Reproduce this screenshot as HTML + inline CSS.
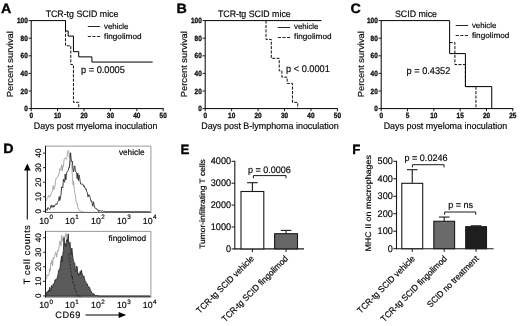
<!DOCTYPE html>
<html><head><meta charset="utf-8"><title>Figure</title>
<style>
html,body{margin:0;padding:0;background:#fff;}
body{width:520px;height:326px;overflow:hidden;font-family:"Liberation Sans",sans-serif;}
svg{display:block;filter:blur(0.22px);}
svg text{font-family:"Liberation Sans",sans-serif;stroke:#000;stroke-width:0.18px;text-rendering:geometricPrecision;}
</style></head>
<body>
<svg width="520" height="326" viewBox="0 0 520 326">
<rect x="0" y="0" width="520" height="326" fill="#ffffff"/>
<text transform="translate(1.10,12.50) scale(1.06,1)" x="0" y="0" font-size="13.5" text-anchor="start" font-weight="bold" fill="#000" style="stroke-width:0.32px">A</text>
<text transform="translate(82.00,17.30) scale(0.945,1)" x="0" y="0" font-size="9.3" text-anchor="middle" font-weight="normal" fill="#0a0a0a">TCR-tg SCID mice</text>
<line x1="31.2" y1="20.1" x2="31.2" y2="109.1" stroke="#000" stroke-width="1.0"/>
<line x1="30.7" y1="108.6" x2="163.7" y2="108.6" stroke="#000" stroke-width="1.0"/>
<line x1="28.599999999999998" y1="108.6" x2="31.2" y2="108.6" stroke="#1a1a1a" stroke-width="1.0"/>
<text transform="translate(27.80,111.10) scale(0.86,1)" x="0" y="0" font-size="7.5" text-anchor="end" font-weight="bold" fill="#1a1a1a" style="stroke-width:0.32px">0</text>
<line x1="28.599999999999998" y1="91.0" x2="31.2" y2="91.0" stroke="#1a1a1a" stroke-width="1.0"/>
<text transform="translate(27.80,93.50) scale(0.86,1)" x="0" y="0" font-size="7.5" text-anchor="end" font-weight="bold" fill="#1a1a1a" style="stroke-width:0.32px">20</text>
<line x1="28.599999999999998" y1="73.39999999999999" x2="31.2" y2="73.39999999999999" stroke="#1a1a1a" stroke-width="1.0"/>
<text transform="translate(27.80,75.90) scale(0.86,1)" x="0" y="0" font-size="7.5" text-anchor="end" font-weight="bold" fill="#1a1a1a" style="stroke-width:0.32px">40</text>
<line x1="28.599999999999998" y1="55.8" x2="31.2" y2="55.8" stroke="#1a1a1a" stroke-width="1.0"/>
<text transform="translate(27.80,58.30) scale(0.86,1)" x="0" y="0" font-size="7.5" text-anchor="end" font-weight="bold" fill="#1a1a1a" style="stroke-width:0.32px">60</text>
<line x1="28.599999999999998" y1="38.19999999999999" x2="31.2" y2="38.19999999999999" stroke="#1a1a1a" stroke-width="1.0"/>
<text transform="translate(27.80,40.70) scale(0.86,1)" x="0" y="0" font-size="7.5" text-anchor="end" font-weight="bold" fill="#1a1a1a" style="stroke-width:0.32px">80</text>
<line x1="28.599999999999998" y1="20.599999999999994" x2="31.2" y2="20.599999999999994" stroke="#1a1a1a" stroke-width="1.0"/>
<text transform="translate(27.80,23.10) scale(0.86,1)" x="0" y="0" font-size="7.5" text-anchor="end" font-weight="bold" fill="#1a1a1a" style="stroke-width:0.32px">100</text>
<line x1="31.2" y1="108.6" x2="31.2" y2="111.19999999999999" stroke="#1a1a1a" stroke-width="1.0"/>
<text transform="translate(31.20,118.30) scale(0.86,1)" x="0" y="0" font-size="7.5" text-anchor="middle" font-weight="bold" fill="#1a1a1a" style="stroke-width:0.32px">0</text>
<line x1="57.6" y1="108.6" x2="57.6" y2="111.19999999999999" stroke="#1a1a1a" stroke-width="1.0"/>
<text transform="translate(57.60,118.30) scale(0.86,1)" x="0" y="0" font-size="7.5" text-anchor="middle" font-weight="bold" fill="#1a1a1a" style="stroke-width:0.32px">10</text>
<line x1="84.0" y1="108.6" x2="84.0" y2="111.19999999999999" stroke="#1a1a1a" stroke-width="1.0"/>
<text transform="translate(84.00,118.30) scale(0.86,1)" x="0" y="0" font-size="7.5" text-anchor="middle" font-weight="bold" fill="#1a1a1a" style="stroke-width:0.32px">20</text>
<line x1="110.4" y1="108.6" x2="110.4" y2="111.19999999999999" stroke="#1a1a1a" stroke-width="1.0"/>
<text transform="translate(110.40,118.30) scale(0.86,1)" x="0" y="0" font-size="7.5" text-anchor="middle" font-weight="bold" fill="#1a1a1a" style="stroke-width:0.32px">30</text>
<line x1="136.8" y1="108.6" x2="136.8" y2="111.19999999999999" stroke="#1a1a1a" stroke-width="1.0"/>
<text transform="translate(136.80,118.30) scale(0.86,1)" x="0" y="0" font-size="7.5" text-anchor="middle" font-weight="bold" fill="#1a1a1a" style="stroke-width:0.32px">40</text>
<line x1="163.2" y1="108.6" x2="163.2" y2="111.19999999999999" stroke="#1a1a1a" stroke-width="1.0"/>
<text transform="translate(163.20,118.30) scale(0.86,1)" x="0" y="0" font-size="7.5" text-anchor="middle" font-weight="bold" fill="#1a1a1a" style="stroke-width:0.32px">50</text>
<text transform="translate(13.40,64.20) rotate(-90) scale(1.06,1)" x="0" y="0" font-size="8.74" text-anchor="middle" font-weight="normal" fill="#0a0a0a" >Percent survival</text>
<text transform="translate(95.60,129.30) scale(0.955,1)" x="0" y="0" font-size="9.36" text-anchor="middle" font-weight="normal" fill="#0a0a0a" >Days post myeloma inoculation</text>
<path d="M65.52,20.60 L65.52,45.77 L70.80,45.77 L70.80,64.60 L73.44,64.60 L73.44,102.35 L78.72,102.35 L78.72,108.60" stroke="#000" stroke-width="0.95" fill="none" stroke-dasharray="3,1.4" />
<path d="M31.20,20.60 L65.52,20.60 L65.52,30.98 L68.16,30.98 L68.16,36.09 L73.44,36.09 L73.44,51.66 L78.72,51.66 L78.72,56.86 L91.92,56.86 L91.92,62.05 L152.64,62.05" stroke="#000" stroke-width="1.0" fill="none" />
<line x1="87.8" y1="26.5" x2="100.1" y2="26.5" stroke="#000" stroke-width="0.85"/>
<line x1="87.8" y1="36.5" x2="100.3" y2="36.5" stroke="#000" stroke-width="0.85" stroke-dasharray="3.2,1.35"/>
<text transform="translate(104.00,29.00) scale(0.995,1)" x="0" y="0" font-size="7.9" text-anchor="start" font-weight="normal" fill="#0a0a0a">vehicle</text>
<text transform="translate(104.10,39.00) scale(1.04,1)" x="0" y="0" font-size="7.9" text-anchor="start" font-weight="normal" fill="#0a0a0a">fingolimod</text>
<text transform="translate(81.00,73.00) scale(0.945,1)" x="0" y="0" font-size="9.78" text-anchor="start" font-weight="normal" fill="#0a0a0a" >p = 0.0005</text>
<text transform="translate(176.60,12.50) scale(1.06,1)" x="0" y="0" font-size="13.5" text-anchor="start" font-weight="bold" fill="#000" style="stroke-width:0.32px">B</text>
<text transform="translate(254.30,17.30) scale(0.945,1)" x="0" y="0" font-size="9.3" text-anchor="middle" font-weight="normal" fill="#0a0a0a">TCR-tg SCID mice</text>
<line x1="205.2" y1="20.1" x2="205.2" y2="109.1" stroke="#000" stroke-width="1.0"/>
<line x1="204.7" y1="108.6" x2="337.9" y2="108.6" stroke="#000" stroke-width="1.0"/>
<line x1="202.6" y1="108.6" x2="205.2" y2="108.6" stroke="#1a1a1a" stroke-width="1.0"/>
<text transform="translate(201.80,111.10) scale(0.86,1)" x="0" y="0" font-size="7.5" text-anchor="end" font-weight="bold" fill="#1a1a1a" style="stroke-width:0.32px">0</text>
<line x1="202.6" y1="91.0" x2="205.2" y2="91.0" stroke="#1a1a1a" stroke-width="1.0"/>
<text transform="translate(201.80,93.50) scale(0.86,1)" x="0" y="0" font-size="7.5" text-anchor="end" font-weight="bold" fill="#1a1a1a" style="stroke-width:0.32px">20</text>
<line x1="202.6" y1="73.39999999999999" x2="205.2" y2="73.39999999999999" stroke="#1a1a1a" stroke-width="1.0"/>
<text transform="translate(201.80,75.90) scale(0.86,1)" x="0" y="0" font-size="7.5" text-anchor="end" font-weight="bold" fill="#1a1a1a" style="stroke-width:0.32px">40</text>
<line x1="202.6" y1="55.8" x2="205.2" y2="55.8" stroke="#1a1a1a" stroke-width="1.0"/>
<text transform="translate(201.80,58.30) scale(0.86,1)" x="0" y="0" font-size="7.5" text-anchor="end" font-weight="bold" fill="#1a1a1a" style="stroke-width:0.32px">60</text>
<line x1="202.6" y1="38.19999999999999" x2="205.2" y2="38.19999999999999" stroke="#1a1a1a" stroke-width="1.0"/>
<text transform="translate(201.80,40.70) scale(0.86,1)" x="0" y="0" font-size="7.5" text-anchor="end" font-weight="bold" fill="#1a1a1a" style="stroke-width:0.32px">80</text>
<line x1="202.6" y1="20.599999999999994" x2="205.2" y2="20.599999999999994" stroke="#1a1a1a" stroke-width="1.0"/>
<text transform="translate(201.80,23.10) scale(0.86,1)" x="0" y="0" font-size="7.5" text-anchor="end" font-weight="bold" fill="#1a1a1a" style="stroke-width:0.32px">100</text>
<line x1="205.2" y1="108.6" x2="205.2" y2="111.19999999999999" stroke="#1a1a1a" stroke-width="1.0"/>
<text transform="translate(205.20,118.30) scale(0.86,1)" x="0" y="0" font-size="7.5" text-anchor="middle" font-weight="bold" fill="#1a1a1a" style="stroke-width:0.32px">0</text>
<line x1="231.64" y1="108.6" x2="231.64" y2="111.19999999999999" stroke="#1a1a1a" stroke-width="1.0"/>
<text transform="translate(231.64,118.30) scale(0.86,1)" x="0" y="0" font-size="7.5" text-anchor="middle" font-weight="bold" fill="#1a1a1a" style="stroke-width:0.32px">10</text>
<line x1="258.08" y1="108.6" x2="258.08" y2="111.19999999999999" stroke="#1a1a1a" stroke-width="1.0"/>
<text transform="translate(258.08,118.30) scale(0.86,1)" x="0" y="0" font-size="7.5" text-anchor="middle" font-weight="bold" fill="#1a1a1a" style="stroke-width:0.32px">20</text>
<line x1="284.52" y1="108.6" x2="284.52" y2="111.19999999999999" stroke="#1a1a1a" stroke-width="1.0"/>
<text transform="translate(284.52,118.30) scale(0.86,1)" x="0" y="0" font-size="7.5" text-anchor="middle" font-weight="bold" fill="#1a1a1a" style="stroke-width:0.32px">30</text>
<line x1="310.96" y1="108.6" x2="310.96" y2="111.19999999999999" stroke="#1a1a1a" stroke-width="1.0"/>
<text transform="translate(310.96,118.30) scale(0.86,1)" x="0" y="0" font-size="7.5" text-anchor="middle" font-weight="bold" fill="#1a1a1a" style="stroke-width:0.32px">40</text>
<line x1="337.4" y1="108.6" x2="337.4" y2="111.19999999999999" stroke="#1a1a1a" stroke-width="1.0"/>
<text transform="translate(337.40,118.30) scale(0.86,1)" x="0" y="0" font-size="7.5" text-anchor="middle" font-weight="bold" fill="#1a1a1a" style="stroke-width:0.32px">50</text>
<text transform="translate(186.80,64.20) rotate(-90) scale(1.06,1)" x="0" y="0" font-size="8.74" text-anchor="middle" font-weight="normal" fill="#0a0a0a" >Percent survival</text>
<text transform="translate(269.90,129.30) scale(0.955,1)" x="0" y="0" font-size="9.36" text-anchor="middle" font-weight="normal" fill="#0a0a0a" >Days post B-lymphoma inoculation</text>
<path d="M266.01,20.60 L266.01,39.43 L271.30,39.43 L271.30,58.35 L279.23,58.35 L279.23,70.85 L281.88,70.85 L281.88,77.18 L287.16,77.18 L287.16,83.43 L292.45,83.43 L292.45,102.35 L297.74,102.35 L297.74,108.60" stroke="#000" stroke-width="0.95" fill="none" stroke-dasharray="3,1.4" />
<path d="M205.20,20.60 L321.54,20.60" stroke="#000" stroke-width="1.0" fill="none" />
<line x1="277.8" y1="27.5" x2="290.1" y2="27.5" stroke="#000" stroke-width="0.85"/>
<line x1="277.8" y1="37.5" x2="290.3" y2="37.5" stroke="#000" stroke-width="0.85" stroke-dasharray="3.2,1.35"/>
<text transform="translate(294.00,29.40) scale(0.995,1)" x="0" y="0" font-size="7.9" text-anchor="start" font-weight="normal" fill="#0a0a0a">vehicle</text>
<text transform="translate(294.10,39.40) scale(1.04,1)" x="0" y="0" font-size="7.9" text-anchor="start" font-weight="normal" fill="#0a0a0a">fingolimod</text>
<text transform="translate(286.00,71.80) scale(0.945,1)" x="0" y="0" font-size="9.78" text-anchor="start" font-weight="normal" fill="#0a0a0a" >p &lt; 0.0001</text>
<text transform="translate(350.60,12.50) scale(1.06,1)" x="0" y="0" font-size="13.5" text-anchor="start" font-weight="bold" fill="#000" style="stroke-width:0.32px">C</text>
<text transform="translate(416.00,17.30) scale(0.945,1)" x="0" y="0" font-size="9.3" text-anchor="middle" font-weight="normal" fill="#0a0a0a">SCID mice</text>
<line x1="381.2" y1="20.1" x2="381.2" y2="109.1" stroke="#000" stroke-width="1.0"/>
<line x1="380.7" y1="108.6" x2="513.3" y2="108.6" stroke="#000" stroke-width="1.0"/>
<line x1="378.59999999999997" y1="108.6" x2="381.2" y2="108.6" stroke="#1a1a1a" stroke-width="1.0"/>
<text transform="translate(377.80,111.10) scale(0.86,1)" x="0" y="0" font-size="7.5" text-anchor="end" font-weight="bold" fill="#1a1a1a" style="stroke-width:0.32px">0</text>
<line x1="378.59999999999997" y1="91.0" x2="381.2" y2="91.0" stroke="#1a1a1a" stroke-width="1.0"/>
<text transform="translate(377.80,93.50) scale(0.86,1)" x="0" y="0" font-size="7.5" text-anchor="end" font-weight="bold" fill="#1a1a1a" style="stroke-width:0.32px">20</text>
<line x1="378.59999999999997" y1="73.39999999999999" x2="381.2" y2="73.39999999999999" stroke="#1a1a1a" stroke-width="1.0"/>
<text transform="translate(377.80,75.90) scale(0.86,1)" x="0" y="0" font-size="7.5" text-anchor="end" font-weight="bold" fill="#1a1a1a" style="stroke-width:0.32px">40</text>
<line x1="378.59999999999997" y1="55.8" x2="381.2" y2="55.8" stroke="#1a1a1a" stroke-width="1.0"/>
<text transform="translate(377.80,58.30) scale(0.86,1)" x="0" y="0" font-size="7.5" text-anchor="end" font-weight="bold" fill="#1a1a1a" style="stroke-width:0.32px">60</text>
<line x1="378.59999999999997" y1="38.19999999999999" x2="381.2" y2="38.19999999999999" stroke="#1a1a1a" stroke-width="1.0"/>
<text transform="translate(377.80,40.70) scale(0.86,1)" x="0" y="0" font-size="7.5" text-anchor="end" font-weight="bold" fill="#1a1a1a" style="stroke-width:0.32px">80</text>
<line x1="378.59999999999997" y1="20.599999999999994" x2="381.2" y2="20.599999999999994" stroke="#1a1a1a" stroke-width="1.0"/>
<text transform="translate(377.80,23.10) scale(0.86,1)" x="0" y="0" font-size="7.5" text-anchor="end" font-weight="bold" fill="#1a1a1a" style="stroke-width:0.32px">100</text>
<line x1="381.2" y1="108.6" x2="381.2" y2="111.19999999999999" stroke="#1a1a1a" stroke-width="1.0"/>
<text transform="translate(381.20,118.30) scale(0.86,1)" x="0" y="0" font-size="7.5" text-anchor="middle" font-weight="bold" fill="#1a1a1a" style="stroke-width:0.32px">0</text>
<line x1="407.52" y1="108.6" x2="407.52" y2="111.19999999999999" stroke="#1a1a1a" stroke-width="1.0"/>
<text transform="translate(407.52,118.30) scale(0.86,1)" x="0" y="0" font-size="7.5" text-anchor="middle" font-weight="bold" fill="#1a1a1a" style="stroke-width:0.32px">5</text>
<line x1="433.84" y1="108.6" x2="433.84" y2="111.19999999999999" stroke="#1a1a1a" stroke-width="1.0"/>
<text transform="translate(433.84,118.30) scale(0.86,1)" x="0" y="0" font-size="7.5" text-anchor="middle" font-weight="bold" fill="#1a1a1a" style="stroke-width:0.32px">10</text>
<line x1="460.15999999999997" y1="108.6" x2="460.15999999999997" y2="111.19999999999999" stroke="#1a1a1a" stroke-width="1.0"/>
<text transform="translate(460.16,118.30) scale(0.86,1)" x="0" y="0" font-size="7.5" text-anchor="middle" font-weight="bold" fill="#1a1a1a" style="stroke-width:0.32px">15</text>
<line x1="486.48" y1="108.6" x2="486.48" y2="111.19999999999999" stroke="#1a1a1a" stroke-width="1.0"/>
<text transform="translate(486.48,118.30) scale(0.86,1)" x="0" y="0" font-size="7.5" text-anchor="middle" font-weight="bold" fill="#1a1a1a" style="stroke-width:0.32px">20</text>
<line x1="512.8" y1="108.6" x2="512.8" y2="111.19999999999999" stroke="#1a1a1a" stroke-width="1.0"/>
<text transform="translate(512.80,118.30) scale(0.86,1)" x="0" y="0" font-size="7.5" text-anchor="middle" font-weight="bold" fill="#1a1a1a" style="stroke-width:0.32px">25</text>
<text transform="translate(363.60,64.20) rotate(-90) scale(1.06,1)" x="0" y="0" font-size="8.74" text-anchor="middle" font-weight="normal" fill="#0a0a0a" >Percent survival</text>
<text transform="translate(445.40,129.30) scale(0.955,1)" x="0" y="0" font-size="9.36" text-anchor="middle" font-weight="normal" fill="#0a0a0a" >Days post myeloma inoculation</text>
<path d="M449.63,42.60 L454.90,42.60 L454.90,64.60 L465.42,64.60 L465.42,86.60 L475.95,86.60 L475.95,108.60" stroke="#000" stroke-width="0.95" fill="none" stroke-dasharray="3,1.4" />
<path d="M381.20,20.60 L449.63,20.60 L449.63,53.60 L465.42,53.60 L465.42,86.60 L491.74,86.60 L491.74,108.60" stroke="#000" stroke-width="1.0" fill="none" />
<line x1="455.7" y1="25.5" x2="468.0" y2="25.5" stroke="#000" stroke-width="0.85"/>
<line x1="455.7" y1="35.5" x2="468.2" y2="35.5" stroke="#000" stroke-width="0.85" stroke-dasharray="3.2,1.35"/>
<text transform="translate(471.90,27.70) scale(0.995,1)" x="0" y="0" font-size="7.9" text-anchor="start" font-weight="normal" fill="#0a0a0a">vehicle</text>
<text transform="translate(472.00,37.70) scale(1.04,1)" x="0" y="0" font-size="7.9" text-anchor="start" font-weight="normal" fill="#0a0a0a">fingolimod</text>
<text transform="translate(406.50,74.20) scale(0.945,1)" x="0" y="0" font-size="9.78" text-anchor="start" font-weight="normal" fill="#0a0a0a" >p = 0.4352</text>
<text transform="translate(3.30,152.80) scale(1.06,1)" x="0" y="0" font-size="13.5" text-anchor="start" font-weight="bold" fill="#000" style="stroke-width:0.32px">D</text>
<line x1="45.5" y1="146.1" x2="150.9" y2="146.1" stroke="#777" stroke-width="0.75"/>
<line x1="150.9" y1="146.1" x2="150.9" y2="212.4" stroke="#777" stroke-width="0.75"/>
<line x1="45.1" y1="212.4" x2="151.20000000000002" y2="212.4" stroke="#3a3a3a" stroke-width="0.85"/>
<line x1="45.5" y1="145.79999999999998" x2="45.5" y2="212.8" stroke="#161616" stroke-width="1.0"/>
<line x1="43.0" y1="211.3" x2="45.5" y2="211.3" stroke="#1a1a1a" stroke-width="0.9"/>
<text transform="translate(41.20,211.30) rotate(-90) scale(1,1)" x="0" y="0" font-size="8.00" text-anchor="middle" font-weight="normal" fill="#0a0a0a" >0</text>
<line x1="43.0" y1="196.75" x2="45.5" y2="196.75" stroke="#1a1a1a" stroke-width="0.9"/>
<text transform="translate(41.20,196.75) rotate(-90) scale(1,1)" x="0" y="0" font-size="8.00" text-anchor="middle" font-weight="normal" fill="#0a0a0a" >10</text>
<line x1="43.0" y1="182.20000000000002" x2="45.5" y2="182.20000000000002" stroke="#1a1a1a" stroke-width="0.9"/>
<text transform="translate(41.20,182.20) rotate(-90) scale(1,1)" x="0" y="0" font-size="8.00" text-anchor="middle" font-weight="normal" fill="#0a0a0a" >20</text>
<line x1="43.0" y1="167.65" x2="45.5" y2="167.65" stroke="#1a1a1a" stroke-width="0.9"/>
<text transform="translate(41.20,167.65) rotate(-90) scale(1,1)" x="0" y="0" font-size="8.00" text-anchor="middle" font-weight="normal" fill="#0a0a0a" >30</text>
<line x1="43.0" y1="153.10000000000002" x2="45.5" y2="153.10000000000002" stroke="#1a1a1a" stroke-width="0.9"/>
<text transform="translate(41.20,153.10) rotate(-90) scale(1,1)" x="0" y="0" font-size="8.00" text-anchor="middle" font-weight="normal" fill="#0a0a0a" >40</text>
<text transform="translate(44.10,223.70) scale(1,1)" x="0" y="0" font-size="8.80" text-anchor="middle" font-weight="normal" fill="#0a0a0a" >10</text>
<text transform="translate(51.20,218.90) scale(1,1)" x="0" y="0" font-size="6.30" text-anchor="middle" font-weight="normal" fill="#0a0a0a" >0</text>
<text transform="translate(70.00,223.70) scale(1,1)" x="0" y="0" font-size="8.80" text-anchor="middle" font-weight="normal" fill="#0a0a0a" >10</text>
<text transform="translate(77.10,218.90) scale(1,1)" x="0" y="0" font-size="6.30" text-anchor="middle" font-weight="normal" fill="#0a0a0a" >1</text>
<text transform="translate(95.90,223.70) scale(1,1)" x="0" y="0" font-size="8.80" text-anchor="middle" font-weight="normal" fill="#0a0a0a" >10</text>
<text transform="translate(103.00,218.90) scale(1,1)" x="0" y="0" font-size="6.30" text-anchor="middle" font-weight="normal" fill="#0a0a0a" >2</text>
<text transform="translate(121.80,223.70) scale(1,1)" x="0" y="0" font-size="8.80" text-anchor="middle" font-weight="normal" fill="#0a0a0a" >10</text>
<text transform="translate(128.90,218.90) scale(1,1)" x="0" y="0" font-size="6.30" text-anchor="middle" font-weight="normal" fill="#0a0a0a" >3</text>
<text transform="translate(147.70,223.70) scale(1,1)" x="0" y="0" font-size="8.80" text-anchor="middle" font-weight="normal" fill="#0a0a0a" >10</text>
<text transform="translate(154.80,218.90) scale(1,1)" x="0" y="0" font-size="6.30" text-anchor="middle" font-weight="normal" fill="#0a0a0a" >4</text>
<text transform="translate(118.90,155.20) scale(1,1)" x="0" y="0" font-size="8.25" text-anchor="start" font-weight="normal" fill="#0a0a0a" >vehicle</text>
<path d="M46.00,200.11 L46.60,200.46 L47.20,198.41 L47.80,197.39 L48.40,195.43 L49.00,195.83 L49.60,197.40 L50.20,195.12 L50.80,195.32 L51.40,192.75 L52.00,192.04 L52.60,190.58 L53.20,185.44 L53.80,189.80 L54.40,187.82 L55.00,186.61 L55.60,180.12 L56.20,178.33 L56.80,178.15 L57.40,176.97 L58.00,176.84 L58.60,174.07 L59.20,173.91 L59.80,168.70 L60.40,170.11 L61.00,169.15 L61.60,164.67 L62.20,170.88 L62.80,166.03 L63.40,166.88 L64.00,159.79 L64.60,158.22 L65.20,158.35 L65.80,157.99 L66.40,159.35 L67.00,156.63 L67.60,152.73 L68.20,150.37 L68.80,151.79 L69.40,157.82 L70.00,152.75 L70.60,158.83 L71.20,165.36 L71.80,165.66 L72.40,176.50 L73.00,184.83 L73.60,180.83 L74.20,188.93 L74.80,193.32 L75.40,195.23 L76.00,200.63 L76.60,202.92 L77.20,203.04 L77.80,207.46 L78.40,208.95 L79.00,210.05 L79.60,210.84 L80.20,210.77 L80.80,211.10 L81.40,210.90 L82.00,211.56 L82.60,211.60 L83.20,211.60 L83.80,211.60" stroke="#a2a2a2" stroke-width="0.9" fill="none" stroke-linejoin="round"/>
<path d="M46.00,209.43 L46.60,209.39 L47.20,210.33 L47.80,207.73 L48.40,207.82 L49.00,208.84 L49.60,209.58 L50.20,208.59 L50.80,206.04 L51.40,205.05 L52.00,207.45 L52.60,206.02 L53.20,205.26 L53.80,207.17 L54.40,206.76 L55.00,204.94 L55.60,204.31 L56.20,203.81 L56.80,204.63 L57.40,202.48 L58.00,201.54 L58.60,200.79 L59.20,196.54 L59.80,200.44 L60.40,197.99 L61.00,194.69 L61.60,186.91 L62.20,187.03 L62.80,187.81 L63.40,179.27 L64.00,181.18 L64.60,182.26 L65.20,174.01 L65.80,179.97 L66.40,175.37 L67.00,171.66 L67.60,171.36 L68.20,170.67 L68.80,167.37 L69.40,167.65 L70.00,158.83 L70.60,152.80 L71.20,160.07 L71.80,161.86 L72.40,161.27 L73.00,169.15 L73.60,171.95 L74.20,167.35 L74.80,165.83 L75.40,170.79 L76.00,171.96 L76.60,172.73 L77.20,178.70 L77.80,173.11 L78.40,180.55 L79.00,174.93 L79.60,177.44 L80.20,181.98 L80.80,184.07 L81.40,184.20 L82.00,183.74 L82.60,184.08 L83.20,184.94 L83.80,186.79 L84.40,185.88 L85.00,187.78 L85.60,189.30 L86.20,188.87 L86.80,191.65 L87.40,192.62 L88.00,196.89 L88.60,194.92 L89.20,194.94 L89.80,196.48 L90.40,198.52 L91.00,201.41 L91.60,200.86 L92.20,203.30 L92.80,206.20 L93.40,201.75 L94.00,204.59 L94.60,207.08 L95.20,208.19 L95.80,208.58 L96.40,208.50 L97.00,209.75 L97.60,209.92 L98.20,209.91 L98.80,211.60 L99.40,210.72 L100.00,210.48 L100.60,210.86 L101.20,210.99 L101.80,211.22 L102.40,210.68 L103.00,211.27 L103.60,211.60 L104.20,211.27 L104.80,211.50 L105.40,211.60 L106.00,211.60 L106.60,211.60 L107.20,211.60 L107.80,211.60 L108.40,211.60 L109.00,211.60 L109.60,211.60 L110.20,211.60 L110.80,211.60 L111.40,211.60 L112.00,211.60 L112.60,211.60 L113.20,211.60 L113.80,211.60 L114.40,211.60 L115.00,211.60 L115.60,211.60 L116.20,211.60 L116.80,211.60 L117.40,211.60 L118.00,211.60 L118.60,211.60 L119.20,211.60 L119.80,211.60 L120.40,211.60 L121.00,211.60 L121.60,211.60 L122.20,211.60 L122.80,211.60 L123.40,211.60 L124.00,211.60 L124.60,211.60 L125.20,211.60 L125.80,211.60 L126.40,211.60 L127.00,211.60 L127.60,211.60 L128.20,211.60 L128.80,211.60 L129.40,211.60 L130.00,211.60 L130.60,211.60 L131.20,211.60 L131.80,211.60 L132.40,211.60 L133.00,211.60 L133.60,211.60 L134.20,211.60 L134.80,211.60 L135.40,211.60 L136.00,211.60 L136.60,211.60 L137.20,211.60 L137.80,211.60 L138.40,211.60 L139.00,211.60 L139.60,211.60 L140.20,211.60 L140.80,211.60 L141.40,211.60 L142.00,211.60 L142.60,211.60 L143.20,211.60 L143.80,211.60 L144.40,211.60 L145.00,211.60 L145.60,211.60 L146.20,211.60 L146.80,211.60 L147.40,211.60 L148.00,211.60 L148.60,211.60 L149.20,211.60 L149.80,211.60" stroke="#2a2a2a" stroke-width="0.9" fill="none" stroke-linejoin="round"/>
<line x1="45.5" y1="231.4" x2="150.9" y2="231.4" stroke="#777" stroke-width="0.75"/>
<line x1="150.9" y1="231.4" x2="150.9" y2="297.0" stroke="#777" stroke-width="0.75"/>
<line x1="45.1" y1="297.0" x2="151.20000000000002" y2="297.0" stroke="#3a3a3a" stroke-width="0.85"/>
<line x1="45.5" y1="231.1" x2="45.5" y2="297.4" stroke="#161616" stroke-width="1.0"/>
<line x1="43.0" y1="295.90000000000003" x2="45.5" y2="295.90000000000003" stroke="#1a1a1a" stroke-width="0.9"/>
<text transform="translate(41.20,295.90) rotate(-90) scale(1,1)" x="0" y="0" font-size="8.00" text-anchor="middle" font-weight="normal" fill="#0a0a0a" >0</text>
<line x1="43.0" y1="281.35" x2="45.5" y2="281.35" stroke="#1a1a1a" stroke-width="0.9"/>
<text transform="translate(41.20,281.35) rotate(-90) scale(1,1)" x="0" y="0" font-size="8.00" text-anchor="middle" font-weight="normal" fill="#0a0a0a" >10</text>
<line x1="43.0" y1="266.8" x2="45.5" y2="266.8" stroke="#1a1a1a" stroke-width="0.9"/>
<text transform="translate(41.20,266.80) rotate(-90) scale(1,1)" x="0" y="0" font-size="8.00" text-anchor="middle" font-weight="normal" fill="#0a0a0a" >20</text>
<line x1="43.0" y1="252.25000000000003" x2="45.5" y2="252.25000000000003" stroke="#1a1a1a" stroke-width="0.9"/>
<text transform="translate(41.20,252.25) rotate(-90) scale(1,1)" x="0" y="0" font-size="8.00" text-anchor="middle" font-weight="normal" fill="#0a0a0a" >30</text>
<line x1="43.0" y1="237.70000000000005" x2="45.5" y2="237.70000000000005" stroke="#1a1a1a" stroke-width="0.9"/>
<text transform="translate(41.20,237.70) rotate(-90) scale(1,1)" x="0" y="0" font-size="8.00" text-anchor="middle" font-weight="normal" fill="#0a0a0a" >40</text>
<text transform="translate(44.10,308.30) scale(1,1)" x="0" y="0" font-size="8.80" text-anchor="middle" font-weight="normal" fill="#0a0a0a" >10</text>
<text transform="translate(51.20,303.50) scale(1,1)" x="0" y="0" font-size="6.30" text-anchor="middle" font-weight="normal" fill="#0a0a0a" >0</text>
<text transform="translate(70.00,308.30) scale(1,1)" x="0" y="0" font-size="8.80" text-anchor="middle" font-weight="normal" fill="#0a0a0a" >10</text>
<text transform="translate(77.10,303.50) scale(1,1)" x="0" y="0" font-size="6.30" text-anchor="middle" font-weight="normal" fill="#0a0a0a" >1</text>
<text transform="translate(95.90,308.30) scale(1,1)" x="0" y="0" font-size="8.80" text-anchor="middle" font-weight="normal" fill="#0a0a0a" >10</text>
<text transform="translate(103.00,303.50) scale(1,1)" x="0" y="0" font-size="6.30" text-anchor="middle" font-weight="normal" fill="#0a0a0a" >2</text>
<text transform="translate(121.80,308.30) scale(1,1)" x="0" y="0" font-size="8.80" text-anchor="middle" font-weight="normal" fill="#0a0a0a" >10</text>
<text transform="translate(128.90,303.50) scale(1,1)" x="0" y="0" font-size="6.30" text-anchor="middle" font-weight="normal" fill="#0a0a0a" >3</text>
<text transform="translate(147.70,308.30) scale(1,1)" x="0" y="0" font-size="8.80" text-anchor="middle" font-weight="normal" fill="#0a0a0a" >10</text>
<text transform="translate(154.80,303.50) scale(1,1)" x="0" y="0" font-size="6.30" text-anchor="middle" font-weight="normal" fill="#0a0a0a" >4</text>
<text transform="translate(108.50,240.50) scale(1,1)" x="0" y="0" font-size="8.25" text-anchor="start" font-weight="normal" fill="#0a0a0a" >fingolimod</text>
<path d="M46.00,277.16 L46.60,278.62 L47.20,274.59 L47.80,275.87 L48.40,275.80 L49.00,275.00 L49.60,268.49 L50.20,270.98 L50.80,263.01 L51.40,263.69 L52.00,260.01 L52.60,265.87 L53.20,257.64 L53.80,258.94 L54.40,256.40 L55.00,255.12 L55.60,252.25 L56.20,253.56 L56.80,257.18 L57.40,250.62 L58.00,250.92 L58.60,251.06 L59.20,245.82 L59.80,240.92 L60.40,241.84 L61.00,245.91 L61.60,235.17 L62.20,237.30 L62.80,241.48 L63.40,239.31 L64.00,236.13 L64.60,239.14 L65.20,237.01 L65.80,233.46 L66.40,234.46 L67.00,239.96 L67.60,247.98 L68.20,248.77 L68.80,253.50 L69.40,259.10 L70.00,262.12 L70.60,270.28 L71.20,271.28 L71.80,277.88 L72.40,276.14 L73.00,283.35 L73.60,283.97 L74.20,284.43 L74.80,290.15 L75.40,290.77 L76.00,290.74 L76.60,293.69 L77.20,295.49 L77.80,295.47 L78.40,296.04 L79.00,296.10 L79.60,296.10 L80.20,296.10 L80.80,296.10 L81.40,296.10 L82.00,296.10" stroke="#a2a2a2" stroke-width="0.9" fill="none" stroke-linejoin="round"/>
<path d="M46.00,292.03 L46.60,293.52 L47.20,293.26 L47.80,291.14 L48.40,290.25 L49.00,292.14 L49.60,287.34 L50.20,289.11 L50.80,290.73 L51.40,285.48 L52.00,286.79 L52.60,287.68 L53.20,283.82 L53.80,283.99 L54.40,283.55 L55.00,279.49 L55.60,279.84 L56.20,279.49 L56.80,279.47 L57.40,276.82 L58.00,274.93 L58.60,270.54 L59.20,269.27 L59.80,269.54 L60.40,265.06 L61.00,259.54 L61.60,255.92 L62.20,262.19 L62.80,254.61 L63.40,250.53 L64.00,237.89 L64.60,245.28 L65.20,243.71 L65.80,246.51 L66.40,241.29 L67.00,239.46 L67.60,241.67 L68.20,233.84 L68.80,244.34 L69.40,243.72 L70.00,242.16 L70.60,250.40 L71.20,254.67 L71.80,248.09 L72.40,253.24 L73.00,258.74 L73.60,261.25 L74.20,262.59 L74.80,263.18 L75.40,271.70 L76.00,270.17 L76.60,266.10 L77.20,266.91 L77.80,274.48 L78.40,273.49 L79.00,275.88 L79.60,274.30 L80.20,271.36 L80.80,274.32 L81.40,269.94 L82.00,273.43 L82.60,275.41 L83.20,277.13 L83.80,275.83 L84.40,278.21 L85.00,280.47 L85.60,281.52 L86.20,283.15 L86.80,283.61 L87.40,283.97 L88.00,286.76 L88.60,286.89 L89.20,286.97 L89.80,288.30 L90.40,290.07 L91.00,291.00 L91.60,292.28 L92.20,293.07 L92.80,293.64 L93.40,293.87 L94.00,293.67 L94.60,295.04 L95.20,295.66 L95.80,295.53 L96.40,295.44 L97.00,295.77 L97.60,295.54 L98.20,295.56 L98.80,296.06 L99.40,296.10 L100.00,296.10 L100.60,296.10 L101.20,296.10 L101.80,296.10 L102.40,296.10 L103.00,296.10 L103.60,296.10 L104.20,296.10 L104.80,296.10 L105.40,296.10 L106.00,296.10 L106.60,296.10 L107.20,296.10 L107.80,296.10 L108.40,296.10 L109.00,296.10 L109.60,296.10 L110.20,296.10 L110.80,296.10 L111.40,296.10 L112.00,296.10 L112.60,296.10 L113.20,296.10 L113.80,296.10 L114.40,296.10 L115.00,296.10 L115.60,296.10 L116.20,296.10 L116.80,296.10 L117.40,296.10 L118.00,296.10 L118.60,296.10 L119.20,296.10 L119.80,296.10 L120.40,296.10 L121.00,296.10 L121.60,296.10 L122.20,296.10 L122.80,296.10 L123.40,296.10 L124.00,296.10 L124.60,296.10 L125.20,296.10 L125.80,296.10 L126.40,296.10 L127.00,296.10 L127.60,296.10 L128.20,296.10 L128.80,296.10 L129.40,296.10 L130.00,296.10 L130.60,296.10 L131.20,296.10 L131.80,296.10 L132.40,296.10 L133.00,296.10 L133.60,296.10 L134.20,296.10 L134.80,296.10 L135.40,296.10 L136.00,296.10 L136.60,296.10 L137.20,296.10 L137.80,296.10 L138.40,296.10 L139.00,296.10 L139.60,296.10 L140.20,296.10 L140.80,296.10 L141.40,296.10 L142.00,296.10 L142.60,296.10 L143.20,296.10 L143.80,296.10 L144.40,296.10 L145.00,296.10 L145.60,296.10 L146.20,296.10 L146.80,296.10 L147.40,296.10 L148.00,296.10 L148.60,296.10 L149.20,296.10 L149.80,296.10 L150,296.1 L46,296.1 Z" stroke="#2a2a2a" stroke-width="0.9" fill="#5a5a5a" stroke-linejoin="round"/>
<path d="M68.80,253.50 L69.40,259.10 L70.00,262.12 L70.60,270.28 L71.20,271.28 L71.80,277.88 L72.40,276.14 L73.00,283.35 L73.60,283.97 L74.20,284.43 L74.80,290.15 L75.40,290.77 L76.00,290.74 L76.60,293.69 L77.20,295.49 L77.80,295.47 L78.40,296.04 L79.00,296.10 L79.60,296.10 L80.20,296.10 L80.80,296.10 L81.40,296.10 L82.00,296.10" stroke="#262626" stroke-width="0.9" fill="none" stroke-dasharray="2.2,1.3" />
<text transform="translate(30.30,254.30) rotate(-90) scale(1,1)" x="0" y="0" font-size="9.10" text-anchor="middle" font-weight="normal" fill="#0a0a0a" letter-spacing="0.68">T cell counts</text>
<line x1="27.3" y1="219.4" x2="27.3" y2="169.5" stroke="#000" stroke-width="1.05"/>
<path d="M27.3,163.4 L24.0,170.6 L30.6,170.6 Z" fill="#000"/>
<text transform="translate(55.20,318.30) scale(1,1)" x="0" y="0" font-size="9.20" text-anchor="start" font-weight="normal" fill="#0a0a0a" letter-spacing="0.55">CD69</text>
<line x1="85.5" y1="315" x2="119" y2="315" stroke="#000" stroke-width="1.05"/>
<path d="M126.2,315 L118.6,311.9 L118.6,318.1 Z" fill="#000"/>
<text transform="translate(180.50,153.60) scale(0.98,1)" x="0" y="0" font-size="13.5" text-anchor="start" font-weight="bold" fill="#000" style="stroke-width:0.32px">E</text>
<line x1="234.8" y1="160.8" x2="234.8" y2="249.4" stroke="#1a1a1a" stroke-width="1.1"/>
<line x1="234.3" y1="248.9" x2="304" y2="248.9" stroke="#1a1a1a" stroke-width="1.1"/>
<line x1="231.60000000000002" y1="248.9" x2="234.8" y2="248.9" stroke="#1a1a1a" stroke-width="1.0"/>
<text transform="translate(231.10,251.90) scale(0.955,1)" x="0" y="0" font-size="9.57" text-anchor="end" font-weight="normal" fill="#0a0a0a" >0</text>
<line x1="231.60000000000002" y1="227.0" x2="234.8" y2="227.0" stroke="#1a1a1a" stroke-width="1.0"/>
<text transform="translate(231.10,230.00) scale(0.955,1)" x="0" y="0" font-size="9.57" text-anchor="end" font-weight="normal" fill="#0a0a0a" >1000</text>
<line x1="231.60000000000002" y1="205.10000000000002" x2="234.8" y2="205.10000000000002" stroke="#1a1a1a" stroke-width="1.0"/>
<text transform="translate(231.10,208.10) scale(0.955,1)" x="0" y="0" font-size="9.57" text-anchor="end" font-weight="normal" fill="#0a0a0a" >2000</text>
<line x1="231.60000000000002" y1="183.2" x2="234.8" y2="183.2" stroke="#1a1a1a" stroke-width="1.0"/>
<text transform="translate(231.10,186.20) scale(0.955,1)" x="0" y="0" font-size="9.57" text-anchor="end" font-weight="normal" fill="#0a0a0a" >3000</text>
<line x1="231.60000000000002" y1="161.3" x2="234.8" y2="161.3" stroke="#1a1a1a" stroke-width="1.0"/>
<text transform="translate(231.10,164.30) scale(0.955,1)" x="0" y="0" font-size="9.57" text-anchor="end" font-weight="normal" fill="#0a0a0a" >4000</text>
<line x1="252.4" y1="191.5001" x2="252.4" y2="182.6963" stroke="#1a1a1a" stroke-width="1.1"/>
<line x1="247.1" y1="182.6963" x2="257.7" y2="182.6963" stroke="#1a1a1a" stroke-width="1.1"/>
<rect x="241.0" y="191.50" width="22.80000000000001" height="57.40" fill="#ffffff" stroke="#1a1a1a" stroke-width="1.1"/>
<line x1="252.4" y1="248.9" x2="252.4" y2="252.1" stroke="#1a1a1a" stroke-width="1.0"/>
<line x1="286.05" y1="233.7014" x2="286.05" y2="230.4164" stroke="#1a1a1a" stroke-width="1.1"/>
<line x1="280.75" y1="230.4164" x2="291.35" y2="230.4164" stroke="#1a1a1a" stroke-width="1.1"/>
<rect x="274.6" y="233.70" width="22.899999999999977" height="15.20" fill="#666666" stroke="#1a1a1a" stroke-width="1.1"/>
<line x1="286.05" y1="248.9" x2="286.05" y2="252.1" stroke="#1a1a1a" stroke-width="1.0"/>
<text transform="translate(205.10,204.00) rotate(-90) scale(1.09,1)" x="0" y="0" font-size="7.78" text-anchor="middle" font-weight="normal" fill="#0a0a0a" >Tumor-infiltrating T cells</text>
<text transform="translate(254.60,259.20) rotate(-45) scale(0.955,1)" x="0" y="0" font-size="8.74" text-anchor="end" font-weight="normal" fill="#0a0a0a" >TCR-tg SCID vehicle</text>
<text transform="translate(288.60,259.20) rotate(-45) scale(0.955,1)" x="0" y="0" font-size="8.74" text-anchor="end" font-weight="normal" fill="#0a0a0a" >TCR-tg SCID fingolimod</text>
<path d="M253.4,178.29999999999998 L253.4,175.6 L286,175.6 L286,178.29999999999998" stroke="#1a1a1a" stroke-width="1.0" fill="none" />
<text transform="translate(269.40,172.60) scale(0.955,1)" x="0" y="0" font-size="9.46" text-anchor="middle" font-weight="normal" fill="#0a0a0a" >p = 0.0006</text>
<text transform="translate(352.30,153.60) scale(0.98,1)" x="0" y="0" font-size="13.5" text-anchor="start" font-weight="bold" fill="#000" style="stroke-width:0.32px">F</text>
<line x1="396.5" y1="160.79999999999998" x2="396.5" y2="249.2" stroke="#1a1a1a" stroke-width="1.1"/>
<line x1="396.0" y1="248.7" x2="493.6" y2="248.7" stroke="#1a1a1a" stroke-width="1.1"/>
<line x1="393.3" y1="248.7" x2="396.5" y2="248.7" stroke="#1a1a1a" stroke-width="1.0"/>
<text transform="translate(392.80,251.70) scale(0.955,1)" x="0" y="0" font-size="9.57" text-anchor="end" font-weight="normal" fill="#0a0a0a" >0</text>
<line x1="393.3" y1="231.22" x2="396.5" y2="231.22" stroke="#1a1a1a" stroke-width="1.0"/>
<text transform="translate(392.80,234.22) scale(0.955,1)" x="0" y="0" font-size="9.57" text-anchor="end" font-weight="normal" fill="#0a0a0a" >100</text>
<line x1="393.3" y1="213.73999999999998" x2="396.5" y2="213.73999999999998" stroke="#1a1a1a" stroke-width="1.0"/>
<text transform="translate(392.80,216.74) scale(0.955,1)" x="0" y="0" font-size="9.57" text-anchor="end" font-weight="normal" fill="#0a0a0a" >200</text>
<line x1="393.3" y1="196.26" x2="396.5" y2="196.26" stroke="#1a1a1a" stroke-width="1.0"/>
<text transform="translate(392.80,199.26) scale(0.955,1)" x="0" y="0" font-size="9.57" text-anchor="end" font-weight="normal" fill="#0a0a0a" >300</text>
<line x1="393.3" y1="178.77999999999997" x2="396.5" y2="178.77999999999997" stroke="#1a1a1a" stroke-width="1.0"/>
<text transform="translate(392.80,181.78) scale(0.955,1)" x="0" y="0" font-size="9.57" text-anchor="end" font-weight="normal" fill="#0a0a0a" >400</text>
<line x1="393.3" y1="161.29999999999998" x2="396.5" y2="161.29999999999998" stroke="#1a1a1a" stroke-width="1.0"/>
<text transform="translate(392.80,164.30) scale(0.955,1)" x="0" y="0" font-size="9.57" text-anchor="end" font-weight="normal" fill="#0a0a0a" >500</text>
<line x1="412.25" y1="183.32479999999998" x2="412.25" y2="169.69039999999998" stroke="#1a1a1a" stroke-width="1.1"/>
<line x1="406.95" y1="169.69039999999998" x2="417.55" y2="169.69039999999998" stroke="#1a1a1a" stroke-width="1.1"/>
<rect x="401.8" y="183.32" width="20.899999999999977" height="65.38" fill="#ffffff" stroke="#1a1a1a" stroke-width="1.1"/>
<line x1="412.25" y1="248.7" x2="412.25" y2="251.89999999999998" stroke="#1a1a1a" stroke-width="1.0"/>
<line x1="444.20000000000005" y1="221.25639999999999" x2="444.20000000000005" y2="217.06119999999999" stroke="#1a1a1a" stroke-width="1.1"/>
<line x1="438.90000000000003" y1="217.06119999999999" x2="449.50000000000006" y2="217.06119999999999" stroke="#1a1a1a" stroke-width="1.1"/>
<rect x="433.8" y="221.26" width="20.80000000000001" height="27.44" fill="#6a6a6a" stroke="#1a1a1a" stroke-width="1.1"/>
<line x1="444.20000000000005" y1="248.7" x2="444.20000000000005" y2="251.89999999999998" stroke="#1a1a1a" stroke-width="1.0"/>
<line x1="476.1" y1="226.6752" x2="476.1" y2="225.8012" stroke="#1a1a1a" stroke-width="1.1"/>
<line x1="470.8" y1="225.8012" x2="481.40000000000003" y2="225.8012" stroke="#1a1a1a" stroke-width="1.1"/>
<rect x="465.7" y="226.68" width="20.80000000000001" height="22.02" fill="#1e1e1e" stroke="#1a1a1a" stroke-width="1.1"/>
<line x1="476.1" y1="248.7" x2="476.1" y2="251.89999999999998" stroke="#1a1a1a" stroke-width="1.0"/>
<text transform="translate(371.30,203.30) rotate(-90) scale(1.09,1)" x="0" y="0" font-size="8.19" text-anchor="middle" font-weight="normal" fill="#0a0a0a" >MHC II on macrophages</text>
<text transform="translate(415.60,259.20) rotate(-45) scale(0.955,1)" x="0" y="0" font-size="8.74" text-anchor="end" font-weight="normal" fill="#0a0a0a" >TCR-tg SCID vehicle</text>
<text transform="translate(447.60,259.20) rotate(-45) scale(0.955,1)" x="0" y="0" font-size="8.74" text-anchor="end" font-weight="normal" fill="#0a0a0a" >TCR-tg SCID fingolimod</text>
<text transform="translate(479.30,259.20) rotate(-45) scale(0.955,1)" x="0" y="0" font-size="8.74" text-anchor="end" font-weight="normal" fill="#0a0a0a" >SCID no treatment</text>
<path d="M412.4,167.39999999999998 L412.4,164.7 L444,164.7 L444,167.39999999999998" stroke="#1a1a1a" stroke-width="1.0" fill="none" />
<text transform="translate(426.00,160.70) scale(0.955,1)" x="0" y="0" font-size="9.46" text-anchor="middle" font-weight="normal" fill="#0a0a0a" >p = 0.0246</text>
<path d="M444.6,214.7 L444.6,212.0 L475.7,212.0 L475.7,214.7" stroke="#1a1a1a" stroke-width="1.0" fill="none" />
<text transform="translate(460.60,208.30) scale(0.955,1)" x="0" y="0" font-size="9.46" text-anchor="middle" font-weight="normal" fill="#0a0a0a" >p = ns</text>
</svg>
</body></html>
